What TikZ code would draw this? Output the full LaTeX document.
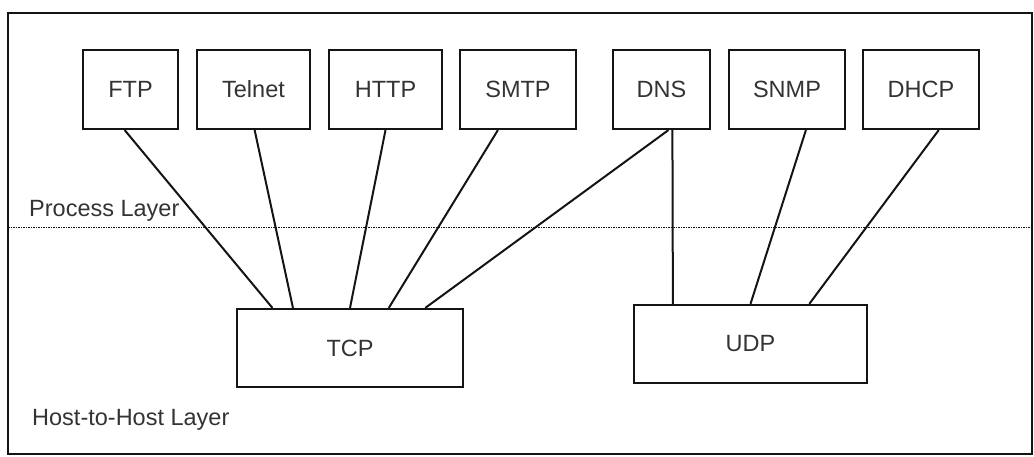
\documentclass[tikz,border=0pt]{standalone}
\usepackage{fontspec}
\setmainfont{Liberation Sans}
\usetikzlibrary{calc}
\newcommand{\LINEPT}{2pt}
\newcommand{\BOXPT}{2.2pt}
\newcommand{\TXTSIZE}{\fontsize{23.5}{28}\selectfont}
\definecolor{myink}{rgb}{0.08,0.08,0.08}
\definecolor{mytext}{rgb}{0.2,0.2,0.2}

\begin{document}
\begin{tikzpicture}[x=1pt,y=-1pt,
	proto/.style={draw=myink,line width=\BOXPT,inner sep=0pt,minimum height=79pt,font=\TXTSIZE,text=mytext},
	link/.style={-,color=myink,line width=\LINEPT}]
	
		\useasboundingbox (0,0) rectangle (1034,457);
		
		%% frame and layer border
		\draw[color=myink,line width=\BOXPT] (8,13) rectangle (1032,454);
		\coordinate (l1) at (8,228);
		\coordinate (l2) at (1032,228);
		\draw[color=myink,line width=1pt,dash pattern=on 1.5pt off 1pt] (l1) -- (l2);
		
		\node[anchor=base west,inner sep=0pt,font=\TXTSIZE,text=mytext] (proc) at (29,217) {Process Layer};
		\node[anchor=base west,inner sep=0pt,font=\TXTSIZE,text=mytext] (host) at (32,425) {Host-to-Host Layer};
		
		%% applications
		\node[proto,minimum width=95pt] (ftp) at (130.5,89.5) {FTP};
		\node[proto,minimum width=113pt] (telnet) at (253.5,89.5) {Telnet};
		\node[proto,minimum width=113pt] (http) at (385.5,89.5) {HTTP};
		\node[proto,minimum width=116pt] (smtp) at (518,89.5) {SMTP};
		\node[proto,minimum width=97pt] (dns) at (661.5,89.5) {DNS};
		\node[proto,minimum width=116pt] (snmp) at (787,89.5) {SNMP};
		\node[proto,minimum width=116pt] (dhcp) at (921,89.5) {DHCP};
		
		%% transport
		\node[proto,minimum width=226pt,minimum height=78pt] (tcp) at (350,348) {TCP};
		\node[proto,minimum width=233pt,minimum height=78pt] (udp) at (750.5,344) {UDP};
		
		%%
		\draw[link] ($(ftp.south west)!0.44!(ftp.south east)$) -- ($(tcp.north west)!0.16!(tcp.north east)$);
		\draw[link] ($(telnet.south west)!0.51!(telnet.south east)$) -- ($(tcp.north west)!0.25!(tcp.north east)$);
		\draw[link] ($(http.south west)!0.50!(http.south east)$) -- ($(tcp.north west)!0.50!(tcp.north east)$);
		\draw[link] ($(smtp.south west)!0.33!(smtp.south east)$) -- ($(tcp.north west)!0.67!(tcp.north east)$);
		\draw[link] ($(dns.south west)!0.57!(dns.south east)$) -- ($(tcp.north west)!0.83!(tcp.north east)$);
		
		\draw[link] ($(dns.south west)!0.61!(dns.south east)$) -- ($(udp.north west)!0.17!(udp.north east)$);
		\draw[link] ($(snmp.south west)!0.66!(snmp.south east)$) -- ($(udp.north west)!0.50!(udp.north east)$);
		\draw[link] ($(dhcp.south west)!0.65!(dhcp.south east)$) -- ($(udp.north west)!0.75!(udp.north east)$);

	\end{tikzpicture}
\end{document}
